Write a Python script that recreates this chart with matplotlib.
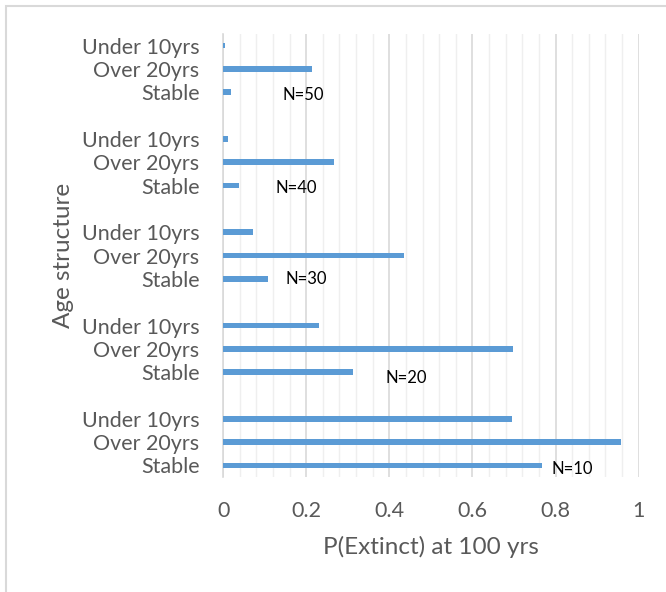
import numpy as np
import matplotlib
matplotlib.use('Agg')
import matplotlib.pyplot as plt
import matplotlib.patches as mpatches

plt.rcParams['font.family'] = ['Lato', 'DejaVu Sans']

# data
pop_sizes = ['N=10', 'N=20', 'N=30', 'N=40', 'N=50']
structures = ['Stable', 'Over 20yrs', 'Under 10yrs']
stable = [0.768, 0.312, 0.107, 0.039, 0.018]
over20 = [0.958, 0.697, 0.435, 0.268, 0.215]
under10 = [0.694, 0.231, 0.071, 0.012, 0.004]

xticks = [0, 0.2, 0.4, 0.6, 0.8, 1]
xticklabels = ['0', '0.2', '0.4', '0.6', '0.8', '1']

# where the N= labels sit (data coords)
label_x = [0.841, 0.441, 0.201, 0.175, 0.192]
label_y = [-0.16, 3.76, 8.0, 11.9, 15.9]

BAR = '#5B9BD5'
TXT = '#595959'

fig = plt.figure(figsize=(6.66, 5.92), dpi=100)
ax = fig.add_axes([0.335, 0.194, 0.624, 0.7486])

ypos, vals, labels = [], [], []
for g in range(len(pop_sizes)):
	for k, series in enumerate([stable, over20, under10]):
		ypos.append(g * 4 + k)
		vals.append(series[g])
		labels.append(structures[k])

ax.barh(ypos, vals, height=0.24, color=BAR, zorder=3)

for i, lab in enumerate(pop_sizes):
	ax.text(label_x[i], label_y[i], lab, fontsize=12, color='black',
		ha='center', va='center', zorder=4)

ax.set_xlim(0, 1)
ax.set_ylim(-0.5, 18.5)
ax.set_yticks(ypos)
ax.set_yticklabels(labels)
ax.set_xticks(xticks)
ax.set_xticklabels(xticklabels)
ax.set_xticks(np.arange(0, 1.001, 0.04), minor=True)

ax.grid(axis='x', which='major', color='#D9D9D9', linewidth=1.2, zorder=0)
ax.grid(axis='x', which='minor', color='#EFEFEF', linewidth=1.0, zorder=0)
ax.set_axisbelow(True)

for s in ['top', 'right', 'bottom']:
	ax.spines[s].set_visible(False)
ax.spines['left'].set_color('#D9D9D9')
ax.spines['left'].set_linewidth(1.2)

ax.tick_params(axis='both', which='both', length=0, labelcolor=TXT, labelsize=15.5)
ax.tick_params(axis='x', pad=17)
ax.tick_params(axis='y', pad=17)

ax.set_xlabel('P(Extinct) at 100 yrs', fontsize=17.5, color=TXT, labelpad=11)
ax.set_ylabel('Age structure', fontsize=17.5, color=TXT, labelpad=6)

# chart border (cut off on right and bottom)
border = mpatches.Rectangle((5.5 / 666, -0.1), 1.2, 1.1 - 5.5 / 592,
	transform=fig.transFigure, fill=False, edgecolor='#D9D9D9', linewidth=1.5)
fig.patches.append(border)

fig.savefig('out.png', dpi=100, facecolor='white')
